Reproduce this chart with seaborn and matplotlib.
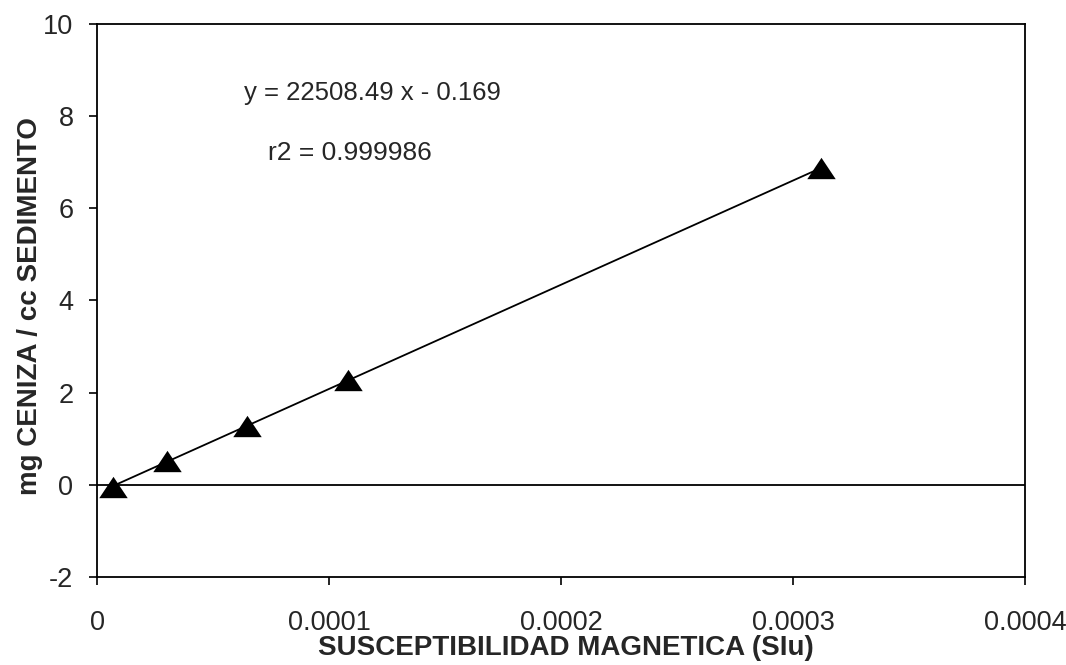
import matplotlib
matplotlib.use("Agg")
import matplotlib.pyplot as plt
import seaborn as sns
import pandas as pd
import numpy as np

# valores
susceptibilidad = [0.0000069, 0.0000300, 0.0000645, 0.0001082, 0.0003120]
ceniza = [-0.05, 0.52, 1.28, 2.27, 6.87]

ecuacion = "y = 22508.49 x - 0.169"
r2_texto = "r2 = 0.999986"
x_ticks = [0, 0.0001, 0.0002, 0.0003, 0.0004]
x_ticklabels = ["0", "0.0001", "0.0002", "0.0003", "0.0004"]
y_ticks = [-2, 0, 2, 4, 6, 8, 10]

df = pd.DataFrame({"x": susceptibilidad, "y": ceniza})

sns.set_style("ticks")
plt.rcParams["font.family"] = ["Liberation Sans", "DejaVu Sans"]
plt.rcParams["axes.unicode_minus"] = False

fig = plt.figure(figsize=(10.66, 6.65), dpi=100)
ax = fig.add_axes([0.091, 0.1323, 0.8705, 0.8317])

tri = [(-1, -0.75), (1, -0.75), (0, 0.75)]
sns.regplot(data=df, x="x", y="y", ci=None, color="black", marker=tri,
            scatter_kws={"s": 420, "zorder": 3, "alpha": 1, "linewidths": 0},
            line_kws={"linewidth": 1.3, "zorder": 2}, ax=ax)

ax.axhline(0, color="black", linewidth=1.3, zorder=1)

ax.set_xlim(0, 0.0004)
ax.set_ylim(-2, 10)
ax.set_xticks(x_ticks)
ax.set_xticklabels(x_ticklabels)
ax.set_yticks(y_ticks)
ax.tick_params(axis="both", labelsize=19.5, length=6, width=1.2, direction="out", color="black")
ax.tick_params(axis="x", pad=18)
ax.tick_params(axis="y", pad=11)

for s in ax.spines.values():
    s.set_visible(True)
    s.set_linewidth(1.3)
    s.set_color("black")

ax.set_xlabel("SUSCEPTIBILIDAD MAGNETICA (SIu)", fontsize=20, fontweight="bold", va="top")
ax.xaxis.set_label_coords(0.505, -0.105)
ax.set_ylabel("mg CENIZA / cc SEDIMENTO", fontsize=20, fontweight="bold", va="center")
ax.yaxis.set_label_coords(-0.072, 0.49)

ax.text(0.0000634, 8.5, ecuacion, fontsize=18.5, va="center", ha="left")
ax.text(0.0000737, 7.2, r2_texto, fontsize=19, va="center", ha="left")

fig.savefig("out.png", dpi=100)
